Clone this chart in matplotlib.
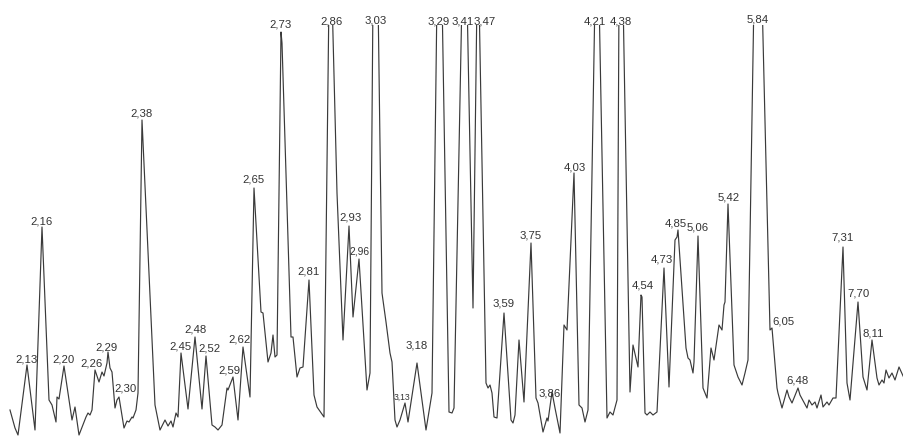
import numpy as np
import matplotlib
matplotlib.use('Agg')
import matplotlib.pyplot as plt

# trace: scan position and detector response
scan = [10, 15, 18, 27, 35, 42, 49, 52, 56, 57, 59, 64, 72, 75, 79, 86, 88, 90, 92,
        95, 99, 102, 104, 107, 108, 110, 112, 115, 117, 119, 124, 127, 129, 132, 133,
        136, 138, 142, 155, 160, 165, 168, 171, 173, 176, 178, 181, 188, 195, 202, 206,
        212, 215, 218, 222, 227, 228, 233, 238, 243, 250, 254, 261, 263, 268, 271, 273,
        275, 277, 281, 282, 291, 293, 297, 300, 303, 309, 314, 317, 324, 329, 332, 337,
        343, 349, 353, 359, 367, 370, 373, 378, 382, 386, 390, 392, 395, 397, 400, 405,
        408, 417, 426, 432, 437, 442, 449, 452, 454, 462, 467, 473, 477, 479, 486, 488,
        490, 492, 494, 497, 504, 511, 513, 515, 519, 524, 531, 536, 538, 543, 547, 548,
        552, 555, 560, 564, 567, 574, 579, 582, 585, 588, 595, 599, 607, 610, 613, 617,
        619, 623, 630, 633, 638, 641, 642, 645, 647, 650, 653, 657, 664, 669, 675, 677,
        678, 686, 688, 690, 693, 694, 698, 703, 707, 711, 714, 719, 722, 724, 725, 728,
        734, 738, 742, 745, 748, 754, 762, 770, 772, 777, 778, 782, 787, 789, 792, 798,
        800, 807, 809, 812, 815, 817, 821, 823, 827, 829, 833, 836, 843, 847, 850, 858,
        863, 867, 872, 877, 879, 882, 884, 886, 889, 892, 895, 899, 904]
response = [26, 8, 1, 71, 6, 209, 36, 31, 14, 39, 37, 70, 16, 29, 1, 19, 23, 21, 26,
            66, 54, 64, 60, 73, 84, 68, 64, 28, 36, 39, 8, 15, 14, 19, 18,
            26, 43, 316, 31, 6, 16, 10, 15, 9, 23, 19, 83, 27, 99, 27, 80,
            11, 9, 6, 11, 48, 46, 59, 16, 89, 39, 248, 124, 123, 74, 83, 101,
            79, 81, 404, 393, 99, 99, 59, 68, 69, 156, 41, 29, 19, 440, 440, 243,
            96, 210, 119, 177, 46, 63, 440, 440, 143, 114, 83, 74, 16, 9, 16, 33,
            14, 73, 6, 43, 440, 440, 24, 23, 28, 440, 440, 128, 440, 440, 53, 48,
            51, 43, 19, 18, 123, 16, 13, 21, 96, 34, 193, 38, 33, 4, 18, 15,
            44, 28, 3, 111, 106, 263, 31, 28, 14, 26, 440, 440, 18, 24, 21, 36,
            440, 440, 44, 91, 69, 141, 139, 23, 21, 24, 21, 24, 168, 49, 196, 199,
            206, 88, 78, 76, 63, 74, 200, 48, 38, 88, 76, 111, 106, 131, 134, 232,
            71, 59, 51, 63, 76, 440, 440, 106, 108, 48, 43, 28, 46, 39, 33, 48,
            41, 28, 36, 31, 34, 28, 41, 29, 34, 31, 38, 38, 189, 53, 36, 134,
            59, 46, 96, 58, 51, 56, 53, 66, 58, 63, 56, 69, 58]

# peak labels (retention times) and where they sit
peak_labels = ['2,13', '2,16', '2,20', '2,26', '2,29', '2,30', '2,38', '2,45', '2,48',
               '2,52', '2,59', '2,62', '2,65', '2,73', '2,81', '2,86', '2,93', '2,96',
               '3,03', '3,13', '3,18', '3,29', '3,41', '3,47', '3,59', '3,75', '3,86',
               '4,03', '4,21', '4,38', '4,54', '4,73', '4,85', '5,06', '5,42', '5,84',
               '6,05', '6,48', '7,31', '7,70', '8,11']
label_x = [27, 42, 64, 92, 107, 126, 142, 180, 196, 209, 229, 240, 253, 281, 309, 332,
           351, 360, 376, 402, 417, 439, 463, 485, 504, 531, 550, 575, 595, 621, 643,
           662, 676, 698, 729, 758, 783, 798, 843, 859, 873]
label_y = [77, 214, 77, 73, 89, 48, 323, 90, 106, 88, 66, 97, 256, 411, 164, 414,
           218, 184, 415, 39, 91, 414, 414, 414, 132, 201, 43, 268, 414, 414, 150,
           176, 213, 208, 239, 416, 115, 56, 198, 143, 102]

plt.rcParams['font.family'] = ['Liberation Sans', 'DejaVu Sans']

fig = plt.figure(figsize=(9.04, 4.36), dpi=100)
ax = fig.add_axes([0, 0, 1, 411 / 436])
ax.plot(scan, response, color='#3a3a3a', lw=0.85)
ax.set_xlim(0, 904)
ax.set_ylim(0, 411)
ax.axis('off')

for lab, lx, ly in zip(peak_labels, label_x, label_y):
    fs = 8.2
    if lab == '3,13':
        fs = 6.2
    elif lab == '2,96':
        fs = 7.4
    ax.text(lx, ly, lab, ha='center', va='center', fontsize=fs,
            color='#333333', clip_on=False)

fig.savefig('out.png', dpi=100, facecolor='white')
